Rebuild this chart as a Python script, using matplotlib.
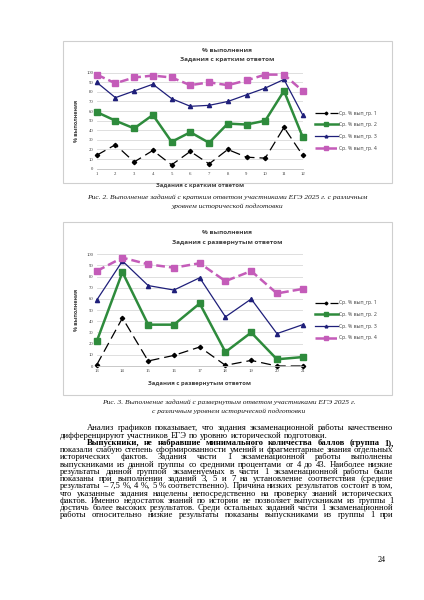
import matplotlib
matplotlib.use('Agg')
import matplotlib.pyplot as plt
from matplotlib.patches import Rectangle

W, H = 424, 600

# chart 1: tasks with short answer
tasks_short = [1, 2, 3, 4, 5, 6, 7, 8, 9, 10, 11, 12]
short_gr1 = [14, 25, 7, 19, 4, 18, 5, 20, 12, 11, 43, 14]
short_gr2 = [59, 50, 42, 56, 28, 38, 27, 47, 46, 50, 81, 33]
short_gr3 = [90, 74, 81, 88, 73, 65, 66, 70, 77, 84, 93, 56]
short_gr4 = [98, 89, 95, 97, 95, 87, 90, 87, 92, 98, 98, 81]

# chart 2: tasks with extended answer
tasks_long = [13, 14, 15, 16, 17, 18, 19, 20, 21]
long_gr1 = [1, 43, 4.5, 9.5, 17, 0.6, 5, 0, 0]
long_gr2 = [22, 84, 37, 37, 56, 12.5, 30, 6, 8]
long_gr3 = [59, 94, 72, 68, 79, 44, 60, 29, 37]
long_gr4 = [85, 97, 91, 88, 92, 76, 85, 65, 69]

series_labels = ['Ср. % вып_гр. 1', 'Ср. % вып_гр. 2', 'Ср. % вып_гр. 3', 'Ср. % вып_гр. 4']

chart_titles = [('% выполнения', 'Задания с кратким ответом'),
                ('% выполнения', 'Задания с развернутым ответом')]
captions = [('Рис. 2. Выполнение заданий с кратким ответом участниками ЕГЭ 2025 г. с различным',
             'уровнем исторической подготовки'),
            ('Рис. 3. Выполнение заданий с развернутым ответом участниками ЕГЭ 2025 г.',
             'с различным уровнем исторической подготовки')]

body_lines = [
    ('Анализ графиков показывает, что задания экзаменационной работы качественно', True, True),
    ('дифференцируют участников ЕГЭ по уровню исторической подготовки.', False, False),
    ('Выпускники, не набравшие минимального количества баллов (группа 1),', True, True),
    ('показали слабую степень сформированности умений и фрагментарные знания отдельных', False, True),
    ('исторических фактов. Задания части 1 экзаменационной работы выполнены', False, True),
    ('выпускниками из данной группы со средними процентами от 4 до 43. Наиболее низкие', False, True),
    ('результаты данной группой экзаменуемых в части 1 экзаменационной работы были', False, True),
    ('показаны при выполнении заданий 3, 5 и 7 на установление соответствия (средние', False, True),
    ('результаты – 7,5 %, 4 %, 5 % соответственно). Причина низких результатов состоит в том,', False, True),
    ('что указанные задания нацелены непосредственно на проверку знаний исторических', False, True),
    ('фактов. Именно недостаток знаний по истории не позволяет выпускникам из группы 1', False, True),
    ('достичь более высоких результатов. Среди остальных заданий части 1 экзаменационной', False, True),
    ('работы относительно низкие результаты показаны выпускниками из группы 1 при', False, True),
]

styles = [
    dict(color='black', lw=0.9, ls=(0, (8, 4)), marker='D', ms=2.2),
    dict(color='#2e8b3c', lw=1.8, ls='-', marker='s', ms=4.8),
    dict(color='#1f1f7a', lw=0.9, ls='-', marker='^', ms=3.0),
    dict(color='#c45cb9', lw=1.8, ls=(0, (3.5, 1.6)), marker='s', ms=4.8),
]

fig = plt.figure(figsize=(W / 100, H / 100), dpi=100)
page = fig.add_axes([0, 0, 1, 1])
page.set_xlim(0, W)
page.set_ylim(H, 0)
page.axis('off')


def px_axes(left, top, right, bottom):
    return fig.add_axes([left / W, 1 - bottom / H, (right - left) / W, (bottom - top) / H])


def draw_chart(frame, plot_box, x, groups, titles, title_y, xlabel_y, legend_y):
    fl, ft, fr, fb = frame
    page.add_patch(Rectangle((fl, ft), fr - fl, fb - ft, fill=False, ec='#cfcfcf', lw=0.8))
    cx = (fl + fr) / 2
    page.text(cx, title_y[0], titles[0], ha='center', va='center', fontsize=4.6,
              fontweight='bold', family='Open Sans', color='#404040')
    page.text(cx, title_y[1], titles[1], ha='center', va='center', fontsize=4.6,
              fontweight='bold', family='Open Sans', color='#404040')

    ax = px_axes(*plot_box)
    handles = []
    for vals, st, lab in zip(groups, styles, series_labels):
        h, = ax.plot(x, vals, color=st['color'], lw=st['lw'], ls=st['ls'], marker=st['marker'],
                     ms=st['ms'], mec=st['color'], mfc=st['color'], label=lab)
        handles.append(h)
    ax.set_xlim(x[0], x[-1])
    ax.set_ylim(0, 100)
    ax.set_yticks(range(0, 101, 10))
    ax.set_xticks(x)
    ax.grid(axis='y', color='#d9d9d9', lw=0.6)
    ax.set_axisbelow(True)
    for s in ['top', 'right', 'left']:
        ax.spines[s].set_visible(False)
    ax.spines['bottom'].set_color('#bfbfbf')
    ax.spines['bottom'].set_linewidth(0.6)
    ax.tick_params(length=0, labelsize=3.4, colors='#404040', pad=2.5)
    for lbl in ax.get_xticklabels() + ax.get_yticklabels():
        lbl.set_family('Liberation Serif')
    for h in handles:
        h.set_clip_on(False)

    pl, pt, pr, pb = plot_box
    page.text((pl + pr) / 2, xlabel_y, titles[1], ha='center', va='center', fontsize=4.2,
              fontweight='bold', family='Open Sans', color='#404040')
    page.text(77, (pt + pb) / 2, titles[0], ha='center', va='center', fontsize=4.0,
              fontweight='bold', family='Open Sans', color='#404040', rotation=90)

    leg = fig.legend(handles=handles, loc='upper left',
                     bbox_to_anchor=(315 / W, 1 - legend_y / H), frameon=False,
                     fontsize=3.7, handlelength=4.4, labelspacing=1.3, handletextpad=0.25,
                     borderaxespad=0, borderpad=0, markerscale=0.65)
    for t in leg.get_texts():
        t.set_color('#404040')
        t.set_family('Open Sans')


draw_chart((63, 41, 392, 183), (96.7, 72.7, 302.7, 168.7), tasks_short,
           [short_gr1, short_gr2, short_gr3, short_gr4], chart_titles[0],
           (50, 59), 185.5, 110.5)
draw_chart((63, 222, 392, 395), (96.7, 254.3, 302.7, 366), tasks_long,
           [long_gr1, long_gr2, long_gr3, long_gr4], chart_titles[1],
           (232.3, 242), 383.3, 300.3)

cap_style = dict(ha='center', va='center', fontsize=5.4, family='Liberation Serif',
                 style='italic', color='#1a1a1a')
page.text(227, 196.8, captions[0][0], **cap_style)
page.text(227, 206.6, captions[0][1], **cap_style)
page.text(229, 402.3, captions[1][0], **cap_style)
page.text(229, 411.2, captions[1][1], **cap_style)

# justified body text
renderer = fig.canvas.get_renderer()
left, right, indent = 60, 393.3, 26.7
y0, dy = 428.3, 7.25
body_size = 6.2
bold_words = 9


def word_width(s, wt='normal'):
    t = page.text(0, 0, s, fontsize=body_size, family='Liberation Serif', fontweight=wt)
    w = t.get_window_extent(renderer).width
    t.remove()
    return w


space_w = word_width('a a') - 2 * word_width('a')

for i, (line, ind, just) in enumerate(body_lines):
    y = y0 + i * dy
    words = line.split(' ')
    pieces = []
    for j, w in enumerate(words):
        wt = 'bold' if (i == 2 and j < bold_words) else 'normal'
        if i == 2 and j == bold_words - 1:
            parts = [(w[:-1], 'bold'), (w[-1], 'normal')]
        else:
            parts = [(w, wt)]
        pieces.append([page.text(0, y, s, fontsize=body_size, family='Liberation Serif',
                                 fontweight=pw, va='center', color='black')
                       for s, pw in parts])
    widths = [sum(t.get_window_extent(renderer).width for t in p) for p in pieces]
    x_start = left + (indent if ind else 0)
    avail = right - x_start
    if just and len(pieces) > 1:
        gap = (avail - sum(widths)) / (len(pieces) - 1)
    else:
        gap = space_w
    x = x_start
    for p, w in zip(pieces, widths):
        xx = x
        for t in p:
            t.set_x(xx)
            xx += t.get_window_extent(renderer).width
        x += w + gap

page.text(381.7, 560, '24', ha='center', va='center', fontsize=5.8, family='Liberation Serif',
          color='black')

fig.savefig('out.png', dpi=100)
